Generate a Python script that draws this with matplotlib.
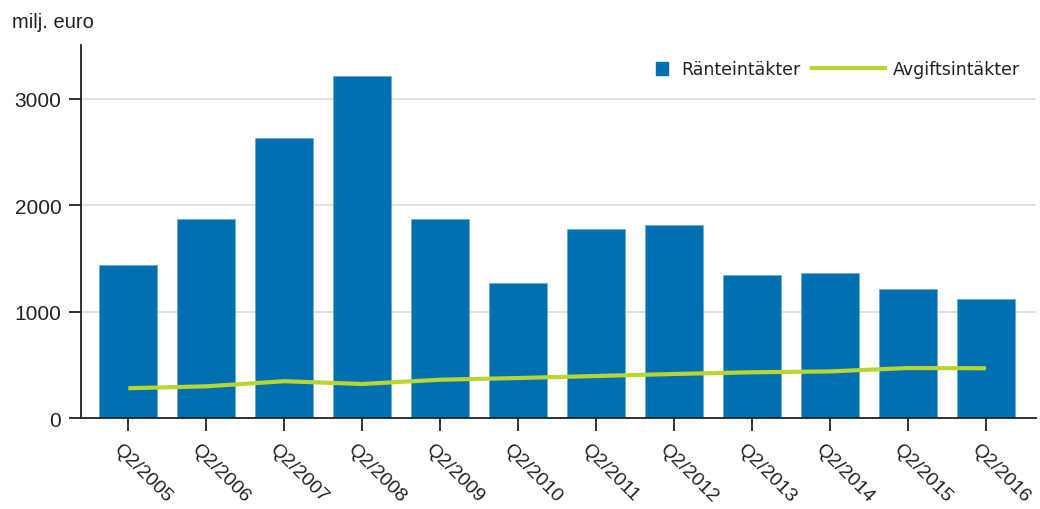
import matplotlib
matplotlib.use("Agg")
import matplotlib.pyplot as plt
import matplotlib.patches as mpatches
from matplotlib.lines import Line2D
from matplotlib.legend_handler import HandlerPatch
import matplotlib.transforms as mtransforms

categories = ["Q2/2005", "Q2/2006", "Q2/2007", "Q2/2008", "Q2/2009", "Q2/2010",
              "Q2/2011", "Q2/2012", "Q2/2013", "Q2/2014", "Q2/2015", "Q2/2016"]
ranteintakter = [1440, 1875, 2630, 3215, 1873, 1268, 1778, 1816, 1345, 1364, 1217, 1122]
avgiftsintakter = [280, 298, 346, 320, 360, 376, 395, 414, 430, 438, 470, 468]
yticks = [0, 1000, 2000, 3000]

BAR = "#0070b0"
LINE = "#bad531"

plt.rcParams['font.family'] = ['Liberation Sans', 'DejaVu Sans']

fig = plt.figure(figsize=(10.4, 5.1), dpi=100)
ax = fig.add_axes([0.0776, 0.1784, 0.996 - 0.0776, 0.9104 - 0.1784])

x = list(range(len(categories)))
ax.bar(x, ranteintakter, width=0.74, color=BAR, edgecolor="#5aa6d6", linewidth=0.4, zorder=2)
ax.plot(x, avgiftsintakter, color=LINE, linewidth=3, zorder=3, solid_capstyle='butt')

ax.set_xlim(-0.61, 11.64)
ax.set_ylim(0, 3510)
ax.set_yticks(yticks)
ax.set_yticklabels([str(v) for v in yticks])
ax.set_xticks(x)
ax.set_xticklabels(categories, rotation=-45, ha='left', va='top', rotation_mode='anchor')

for v in yticks[1:]:
    ax.axhline(v, color="#dcdcdc", linewidth=1.2, zorder=1)

for s in ['top', 'right']:
    ax.spines[s].set_visible(False)
for s in ['left', 'bottom']:
    ax.spines[s].set_color('#222222')
    ax.spines[s].set_linewidth(1.3)

ax.tick_params(axis='y', length=9, width=1.3, color='#222222', labelsize=15, pad=5, labelcolor='#222222')
ax.tick_params(axis='x', length=9, width=1.3, color='#222222', labelsize=14, pad=4, labelcolor='#222222')

offset = mtransforms.ScaledTranslation(-6 / 100, -4 / 100, fig.dpi_scale_trans)
for lbl in ax.get_xticklabels():
    lbl.set_transform(lbl.get_transform() + offset)

fig.text(0.012, 1 - 23 / 510, "milj. euro", fontsize=14.5, color='#222222', va='center', ha='left')


def square_patch(legend, orig_handle, xdescent, ydescent, width, height, fontsize):
    s = height * 1.05
    gap = 3.5
    return mpatches.Rectangle((-xdescent + width - s - gap, -ydescent + (height - s) / 2), s, s)


bar_handle = mpatches.Patch(color=BAR)
line_handle = Line2D([0], [0], color=LINE, linewidth=3)
leg = ax.legend([bar_handle, line_handle], ["Ränteintäkter", "Avgiftsintäkter"],
                loc='upper right', bbox_to_anchor=(0.992, 0.981), ncol=2, frameon=False,
                handlelength=4.2, handletextpad=0.45, columnspacing=0.65, borderaxespad=0.1,
                handler_map={mpatches.Patch: HandlerPatch(patch_func=square_patch)},
                prop={'family': 'DejaVu Sans', 'size': 12.5})
for t in leg.get_texts():
    t.set_color('#222222')

fig.savefig("out.png", dpi=100)
